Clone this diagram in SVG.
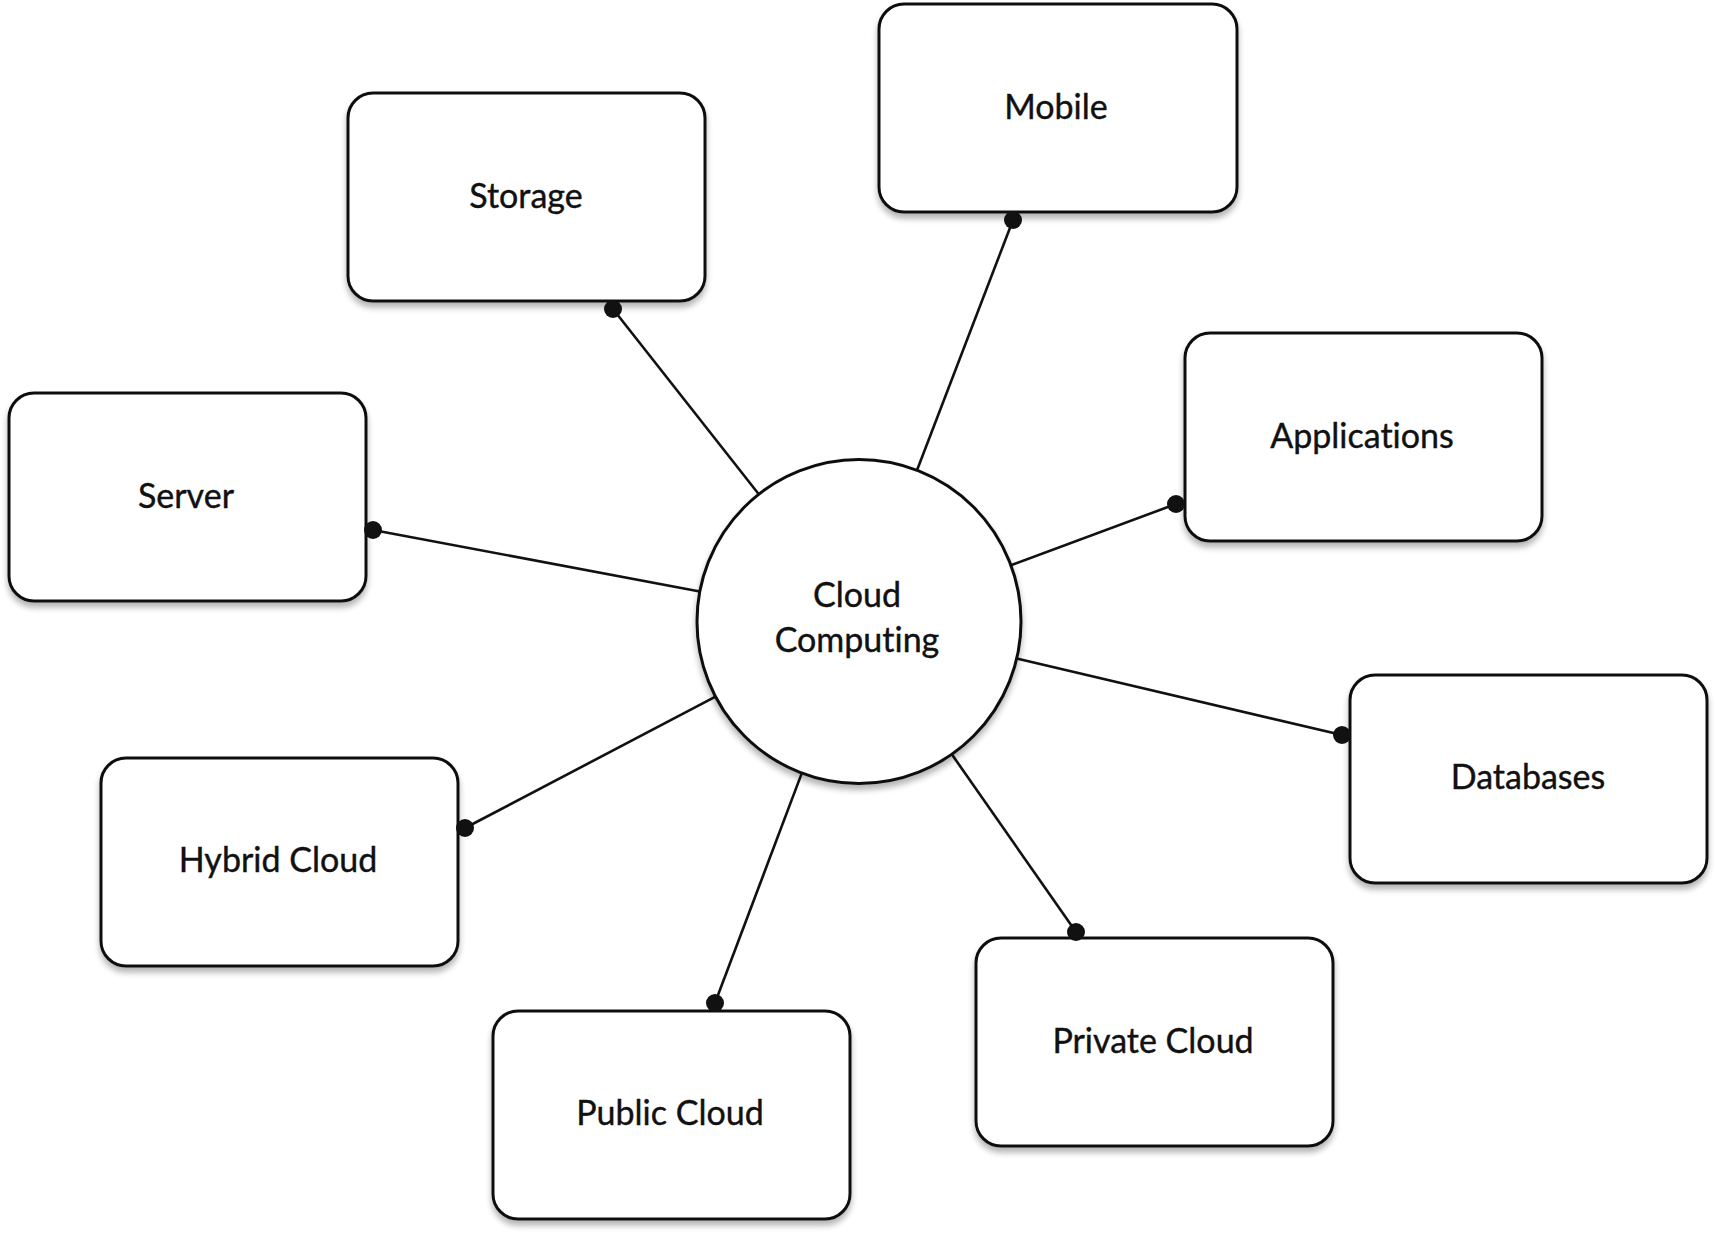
<svg xmlns="http://www.w3.org/2000/svg" width="1716" height="1234" viewBox="0 0 1716 1234">
<defs>
<filter id="sh" x="-10%" y="-10%" width="120%" height="130%">
<feGaussianBlur in="SourceAlpha" stdDeviation="3"/>
<feOffset dx="0" dy="5" result="b"/>
<feComponentTransfer><feFuncA type="linear" slope="0.3"/></feComponentTransfer>
<feMerge><feMergeNode/><feMergeNode in="SourceGraphic"/></feMerge>
</filter>
</defs>
<style>
.box{fill:#fff;stroke:#111;stroke-width:3;filter:url(#sh)}
.hub{fill:#fff;stroke:#111;stroke-width:3;filter:url(#sh)}
.lbl{font-family:Lato,"Noto Sans","Liberation Sans",sans-serif;font-size:34px;fill:#111;text-anchor:middle;font-variant-ligatures:none;stroke:#111;stroke-width:0.4}
.ln{stroke:#111;stroke-width:2.6;fill:none}
.dot{fill:#111}
</style>
<rect width="1716" height="1234" fill="#fff"/>
<g id="connectors">
<line class="ln" x1="613" y1="309" x2="758.8" y2="494.2"/>
<line class="ln" x1="1013" y1="220" x2="917" y2="470.2"/>
<line class="ln" x1="373" y1="530" x2="699.8" y2="591.5"/>
<line class="ln" x1="1176" y1="504" x2="1010.9" y2="565.2"/>
<line class="ln" x1="1342" y1="735" x2="1016.7" y2="658.6"/>
<line class="ln" x1="465" y1="828" x2="715.5" y2="696.7"/>
<line class="ln" x1="715" y1="1003" x2="801.8" y2="773.1"/>
<line class="ln" x1="1076" y1="932" x2="951.8" y2="754.3"/>
</g>
<g id="storage"><rect class="box" x="348" y="93" width="357" height="208" rx="25"/><text class="lbl" x="526" y="208">Storage</text></g>
<g id="mobile"><rect class="box" x="879" y="4" width="358" height="208" rx="25"/><text class="lbl" x="1056" y="119">Mobile</text></g>
<g id="server"><rect class="box" x="9" y="393" width="357" height="208" rx="25"/><text class="lbl" x="186" y="508">Server</text></g>
<g id="applications"><rect class="box" x="1185" y="333" width="357" height="208" rx="25"/><text class="lbl" x="1362" y="448">Applications</text></g>
<g id="databases"><rect class="box" x="1350" y="675" width="357" height="208" rx="25"/><text class="lbl" x="1528" y="789">Databases</text></g>
<g id="hybrid-cloud"><rect class="box" x="101" y="758" width="357" height="208" rx="25"/><text class="lbl" x="278" y="872">Hybrid Cloud</text></g>
<g id="public-cloud"><rect class="box" x="493" y="1011" width="357" height="208" rx="25"/><text class="lbl" x="670" y="1125">Public Cloud</text></g>
<g id="private-cloud"><rect class="box" x="976" y="938" width="357" height="208" rx="25"/><text class="lbl" x="1153" y="1053">Private Cloud</text></g>
<g id="cloud-computing"><circle class="hub" cx="859" cy="621.5" r="162"/><text class="lbl" x="857" y="607">Cloud</text><text class="lbl" x="857" y="652">Computing</text></g>
<g id="dots">
<circle class="dot" cx="613" cy="309" r="9"/>
<circle class="dot" cx="1013" cy="220" r="9"/>
<circle class="dot" cx="373" cy="530" r="9"/>
<circle class="dot" cx="1176" cy="504" r="9"/>
<circle class="dot" cx="1342" cy="735" r="9"/>
<circle class="dot" cx="465" cy="828" r="9"/>
<circle class="dot" cx="715" cy="1003" r="9"/>
<circle class="dot" cx="1076" cy="932" r="9"/>
</g>
</svg>
